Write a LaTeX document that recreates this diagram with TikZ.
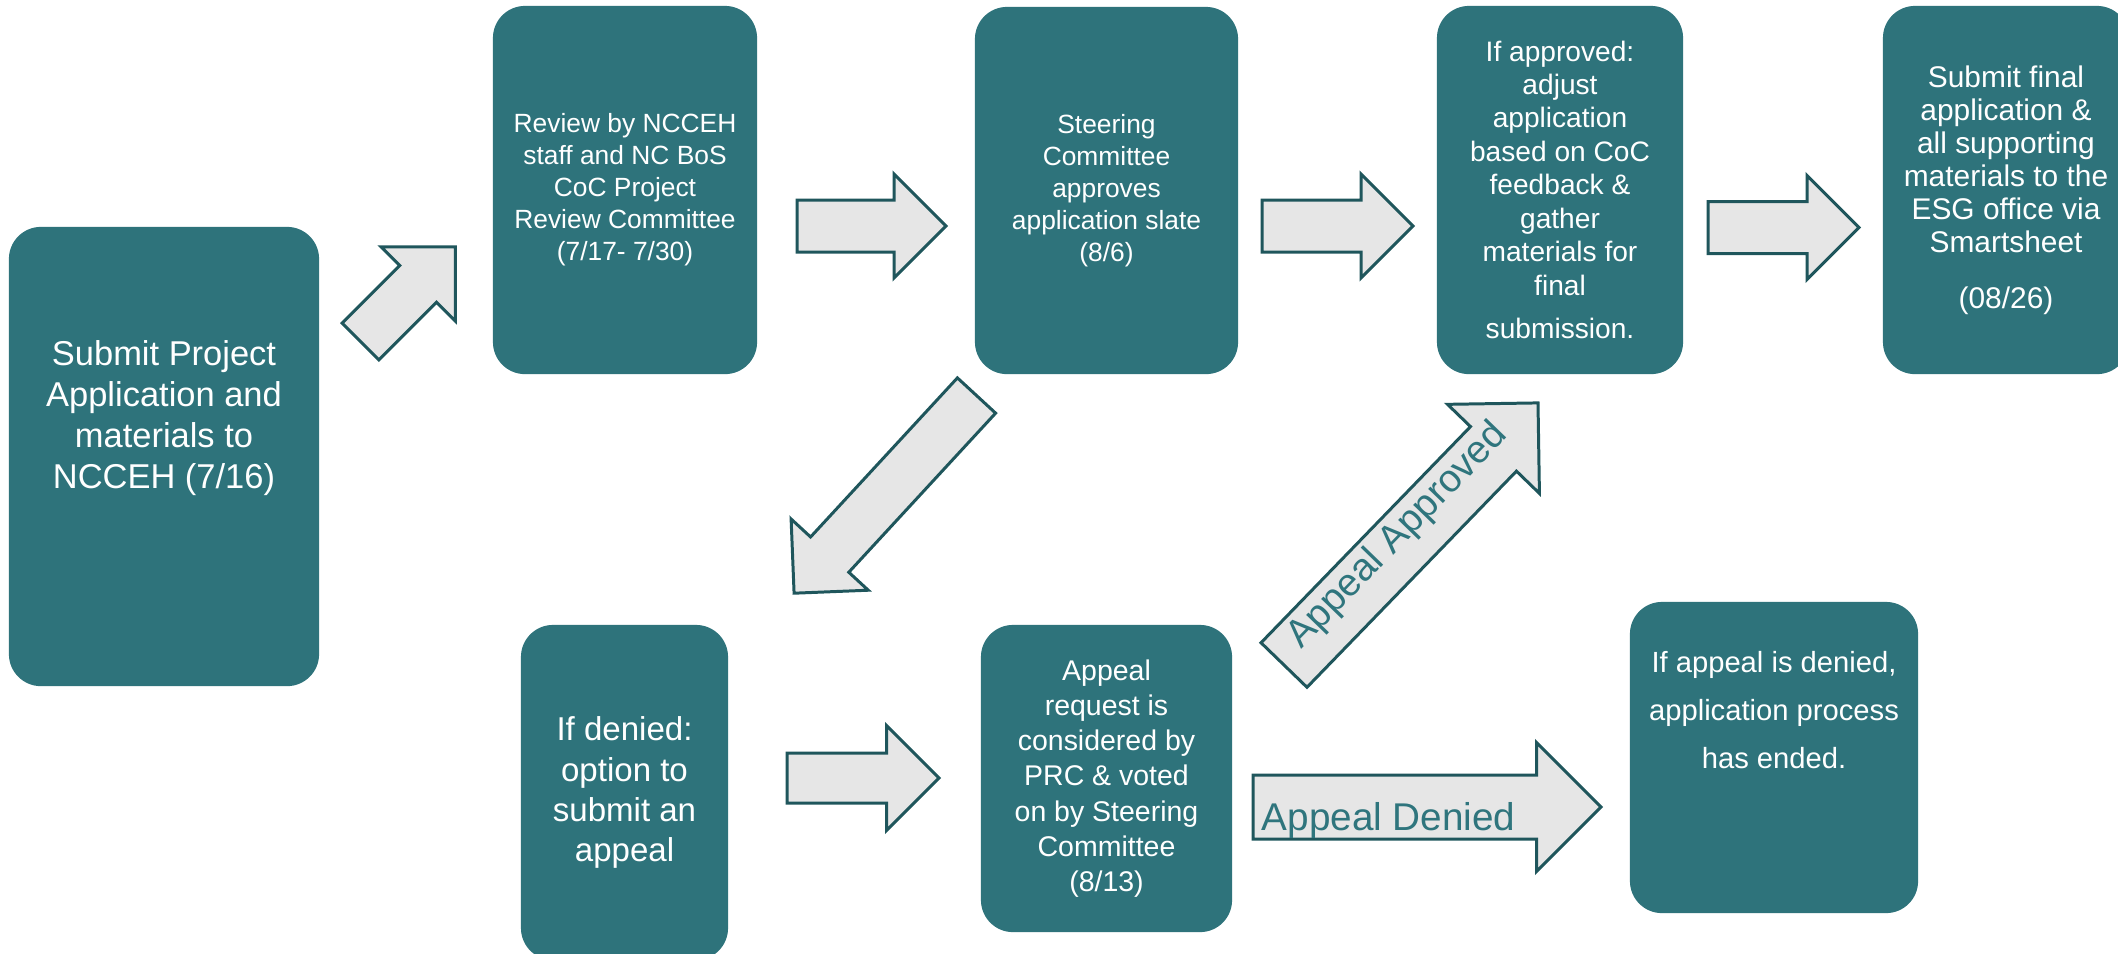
\documentclass[tikz,border=0pt]{standalone}
\usepackage{fontspec}
\setmainfont{Liberation Sans}

\definecolor{boxteal}{RGB}{46,115,123}
\definecolor{arrgrey}{RGB}{230,230,230}
\definecolor{arrline}{RGB}{31,86,92}
\definecolor{lbltext}{RGB}{47,117,125}

\tikzset{
  stepbox/.style={fill=boxteal, rounded corners=0.32cm, text=white, align=center, inner sep=0pt},
  boxtext/.style={text=white, align=center, inner sep=0pt},
  blockarr/.style={fill=arrgrey, draw=arrline, line width=0.85pt, line join=miter},
  arrlabel/.style={text=lbltext, inner sep=0pt, font=\fontsize{11}{13}\selectfont}
}

% block arrow: tail x, tail y, angle, length, shaft width, head width
\newcommand{\blockarrow}[6]{%
  \begin{scope}[shift={(#1,#2)},rotate=#3]
    \draw[blockarr] (0,{-#5/2}) -- ({#4-#6/2},{-#5/2}) -- ({#4-#6/2},{-#6/2})
      -- (#4,0) -- ({#4-#6/2},{#6/2}) -- ({#4-#6/2},{#5/2}) -- (0,{#5/2}) -- cycle;
  \end{scope}}

\begin{document}
\begin{tikzpicture}[x=0.01cm,y=-0.01cm]
  \useasboundingbox (0,0) rectangle (2118,953);

  % steps
  \node[stepbox,minimum width=3.10cm,minimum height=4.59cm] (submit) at (164,456.5) {};
  \node[boxtext,font=\fontsize{9.8}{11.7}\selectfont] (submit-txt) at (164,418)
    {Submit Project\\Application and\\materials to\\NCCEH (7/16)};
  \node[stepbox,minimum width=2.64cm,minimum height=3.68cm,font=\fontsize{7.5}{9.1}\selectfont] (review) at (625,190)
    {Review by NCCEH\\staff and NC BoS\\CoC Project\\Review Committee\\(7/17- 7/30)};
  \node[stepbox,minimum width=2.63cm,minimum height=3.67cm,font=\fontsize{7.5}{9.1}\selectfont] (steer) at (1106.5,190.5)
    {Steering\\Committee\\approves\\application slate\\(8/6)};
  \node[stepbox,minimum width=2.46cm,minimum height=3.68cm,font=\fontsize{8}{9.5}\selectfont] (adjust) at (1560,190)
    {If approved:\\adjust\\application\\based on CoC\\feedback \&\\gather\\materials for\\final\\[3pt]submission.};
  \node[stepbox,minimum width=2.46cm,minimum height=3.68cm,font=\fontsize{8.5}{9.4}\selectfont] (final) at (2006,190)
    {Submit final\\application \&\\all supporting\\materials to the\\ESG office via\\Smartsheet\\[6.5pt](08/26)};
  \node[stepbox,minimum width=2.07cm,minimum height=3.35cm,font=\fontsize{9.4}{11.4}\selectfont] (denied) at (624.5,792.5)
    {If denied:\\option to\\submit an\\appeal};
  \node[stepbox,minimum width=2.51cm,minimum height=3.07cm,font=\fontsize{8.1}{10}\selectfont] (appeal) at (1106.5,778.5)
    {Appeal\\request is\\considered by\\PRC \& voted\\on by Steering\\Committee\\(8/13)};
  \node[stepbox,minimum width=2.88cm,minimum height=3.11cm] (ended) at (1774,757.5) {};
  \node[boxtext,font=\fontsize{8.3}{13.7}\selectfont] (ended-txt) at (1774,710)
    {If appeal is denied,\\application process\\has ended.};

  % arrows
  \blockarrow{360.5}{341.5}{45}{134}{52}{105}
  \blockarrow{797}{226}{0}{149}{52}{104}
  \blockarrow{1262}{226}{0}{151}{52}{104}
  \blockarrow{1708}{227.5}{0}{151}{52}{104}
  \blockarrow{976.5}{395.5}{227.3}{269}{52}{105}
  \blockarrow{787}{778}{0}{152}{50}{105}
  \blockarrow{1284}{665}{45.9}{365}{64}{128}
  \blockarrow{1253}{807}{0}{348}{64}{129}

  % arrow labels
  \node[arrlabel,rotate=45.9] (approved-lbl) at (1398,536) {Appeal Approved};
  \node[arrlabel,anchor=base west] (denied-lbl) at (1261,830) {Appeal Denied};
\end{tikzpicture}
\end{document}
